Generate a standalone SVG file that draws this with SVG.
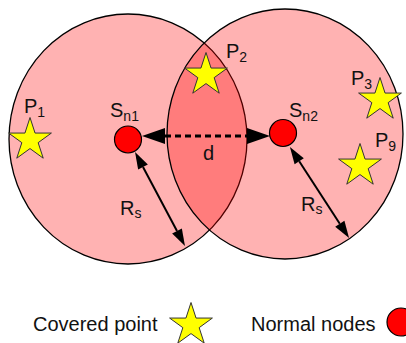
<svg xmlns="http://www.w3.org/2000/svg" width="406" height="343" viewBox="0 0 406 343">
<style>
.area{fill:#ff0000;fill-opacity:0.3;stroke:#000;stroke-width:1.3}
.node{fill:#ff0000;stroke:#000;stroke-width:1.2}
.star{fill:#ffff00;stroke:#333;stroke-width:1}
.lbl{font-family:"Liberation Sans",Arial,sans-serif;font-size:20px;fill:#111}
.sub{font-size:14px}
.conn{stroke:#000;fill:none}
</style>
<defs>
<path id="star" d="M0,-22.5 L5.05,-6.95 L21.4,-6.95 L8.17,2.66 L13.22,18.2 L0,8.59 L-13.22,18.2 L-8.17,2.66 L-21.4,-6.95 L-5.05,-6.95 Z"/>
<marker id="big" markerUnits="userSpaceOnUse" markerWidth="30" markerHeight="20" refX="0" refY="0" viewBox="0 -10 30 20" orient="auto-start-reverse" overflow="visible">
<path d="M0,-8 L23,0 L0,8 Z" fill="#000"/>
</marker>
<marker id="small" markerUnits="userSpaceOnUse" markerWidth="20" markerHeight="14" refX="0" refY="0" viewBox="0 -7 20 14" orient="auto-start-reverse" overflow="visible">
<path d="M0,-5.5 L17,0 L0,5.5 Z" fill="#000"/>
</marker>
</defs>

<g id="area1"><ellipse class="area" cx="128" cy="139" rx="119" ry="125"/></g>
<g id="area2"><ellipse class="area" cx="285" cy="134" rx="118" ry="125"/></g>

<g id="connectors">
<line class="conn" x1="165" y1="136" x2="247" y2="136" stroke-width="3" stroke-dasharray="6 4" marker-start="url(#big)" marker-end="url(#big)"/>
<line class="conn" x1="143" y1="167" x2="177" y2="231" stroke-width="2" marker-start="url(#small)" marker-end="url(#small)"/>
<line class="conn" x1="299.2" y1="161.3" x2="339.8" y2="223.7" stroke-width="2" marker-start="url(#small)" marker-end="url(#small)"/>
</g>

<g id="sn1"><circle class="node" cx="128" cy="139.5" r="13.5"/>
<text class="lbl" x="110" y="117">S<tspan class="sub" dy="4">n1</tspan></text></g>
<g id="sn2"><circle class="node" cx="283" cy="133" r="13.5"/>
<text class="lbl" x="289" y="117">S<tspan class="sub" dy="4">n2</tspan></text></g>

<g id="p1"><use href="#star" class="star" x="30" y="140"/>
<text class="lbl" x="24" y="113">P<tspan class="sub" dy="4">1</tspan></text></g>
<g id="p2"><use href="#star" class="star" x="206" y="75"/>
<text class="lbl" x="226" y="58">P<tspan class="sub" dy="4">2</tspan></text></g>
<g id="p3"><use href="#star" class="star" x="380" y="100"/>
<text class="lbl" x="351" y="85">P<tspan class="sub" dy="4">3</tspan></text></g>
<g id="p9"><use href="#star" class="star" x="360" y="166"/>
<text class="lbl" x="375" y="147">P<tspan class="sub" dy="4">9</tspan></text></g>

<g id="labels">
<text class="lbl" x="203" y="160">d</text>
<text class="lbl" x="120" y="215">R<tspan class="sub" dy="3">s</tspan></text>
<text class="lbl" x="301" y="211">R<tspan class="sub" dy="3">s</tspan></text>
</g>

<g id="legend">
<text class="lbl" x="33" y="331">Covered point</text>
<use href="#star" class="star" x="191" y="325"/>
<text class="lbl" x="251" y="331">Normal nodes</text>
<circle class="node" cx="401" cy="322" r="14"/>
</g>
</svg>
